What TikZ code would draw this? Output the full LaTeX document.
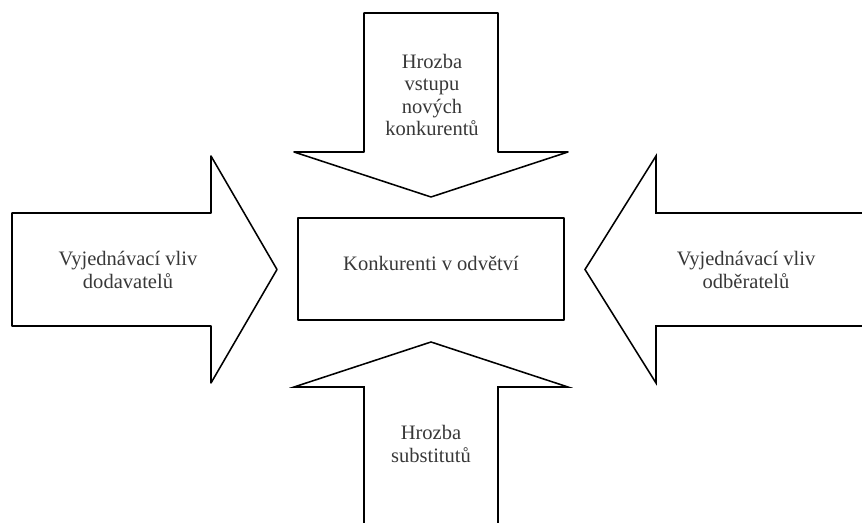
\documentclass[tikz,border=0pt]{standalone}
\usepackage{fontspec}
\setmainfont{Liberation Serif}
\usepackage{tkz-euclide}
\usetikzlibrary{calc}
\definecolor{TextClr}{rgb}{0.22,0.22,0.22}

\begin{document}
\begin{tikzpicture}[scale=.5]
\tkzSetUpLine[line width=1.1pt,color=black]
\tikzset{force/.style={align=center,text=TextClr,font=\fontsize{14.6}{15.8}\selectfont}}

\useasboundingbox (0,0) rectangle (43.1,26.15);

% arrow from above
\tkzDefPoints{18.2/25.5/NA,24.9/25.5/NB,24.9/18.55/NC,28.4/18.55/ND,21.55/16.3/NT,14.7/18.55/NE,18.2/18.55/NF}
\tkzDrawPolygon(NA,NB,NC,ND,NT,NE,NF)

% arrow from below
\tkzDefPoints{18.2/0/SA,18.2/6.8/SB,14.7/6.8/SC,21.55/9.05/ST,28.4/6.8/SD,24.9/6.8/SE,24.9/0/SF}
\tkzDrawPolySeg(SA,SB,SC,ST,SD,SE,SF)

% arrow from the left
\tkzDefPoints{0.6/15.5/WA,10.55/15.5/WB,10.55/18.35/WC,13.85/12.675/WT,10.55/7.0/WD,10.55/9.85/WE,0.6/9.85/WF}
\tkzDrawPolygon(WA,WB,WC,WT,WD,WE,WF)

% arrow from the right
\tkzDefPoints{43.3/15.5/EA,32.8/15.5/EB,32.8/18.35/EC,29.25/12.675/ET,32.8/7.0/ED,32.8/9.85/EE,43.3/9.85/EF}
\tkzDrawPolySeg(EA,EB,EC,ET,ED,EE,EF)

% box in the middle
\tkzDefPoints{14.9/15.25/BA,28.2/15.25/BB,28.2/10.15/BC,14.9/10.15/BD}
\tkzDrawPolygon(BA,BB,BC,BD)

\node[force] (entrants) at (21.6,21.4) {Hrozba\\vstupu\\nových\\konkurentů};
\node[force] (suppliers) at (6.4,12.65) {Vyjednávací vliv\\dodavatelů};
\node[force] (buyers) at (37.3,12.65) {Vyjednávací vliv\\odběratelů};
\node[force] (rivalry) at (21.55,13.0) {Konkurenti v odvětví};
\node[force] (substitutes) at (21.55,3.95) {Hrozba\\substitutů};

\end{tikzpicture}
\end{document}
